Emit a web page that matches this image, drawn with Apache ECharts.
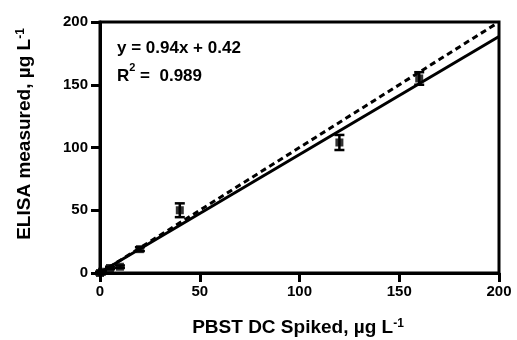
<!DOCTYPE html>
<html>
<head>
<meta charset="utf-8">
<script src="https://cdn.jsdelivr.net/npm/echarts@6/dist/echarts.min.js"></script>
<style>
  html, body { margin: 0; padding: 0; background: #fff; }
  #chart { width: 517px; height: 340px; }
</style>
</head>
<body>
<div id="chart"></div>
<script>
// spiked vs measured
var spiked = [0, 1, 5, 10, 20, 40, 120, 160];
var measured = [0, 1, 4, 5, 19, 50, 104, 155];
var errSd = [1, 0.5, 1, 1, 1.5, 5.5, 6, 5];
var fitSlope = 0.94;
var fitIntercept = 0.42;
var xTicks = [0, 50, 100, 150, 200];
var yTicks = [0, 50, 100, 150, 200];

var chart = echarts.init(document.getElementById('chart'));

var points = spiked.map(function (x, i) { return [x, measured[i]]; });
var bars = spiked.map(function (x, i) { return [x, measured[i] - errSd[i], measured[i] + errSd[i]]; });
var xMax = xTicks[xTicks.length - 1];
var fitLine = [[0, fitIntercept], [xMax, fitSlope * xMax + fitIntercept]];
var idLine = [[0, 0], [xMax, xMax]];

var font = 'Liberation Sans, Arial, sans-serif';
var labelRich = {
  t: { fontFamily: font, fontWeight: 'bold', fontSize: 19, fill: '#000' },
  s: { fontFamily: font, fontWeight: 'bold', fontSize: 12, fill: '#000', verticalAlign: 'top', padding: [0, 0, 9, 0] }
};

var option = {
  backgroundColor: '#fff',
  animation: false,
  grid: {
    left: 100, right: 18, top: 22, bottom: 67,
    show: true, borderColor: '#000', borderWidth: 3
  },
  xAxis: {
    type: 'value', min: 0, max: xMax, interval: 50,
    axisLine: { show: true, lineStyle: { color: '#000', width: 3 } },
    axisTick: { show: true, inside: false, length: 9, lineStyle: { color: '#000', width: 3 } },
    axisLabel: { color: '#000', fontFamily: font, fontWeight: 'bold', fontSize: 15, margin: 11 },
    splitLine: { show: false }
  },
  yAxis: {
    type: 'value', min: 0, max: yTicks[yTicks.length - 1], interval: 50,
    axisLine: { show: true, lineStyle: { color: '#000', width: 3 } },
    axisTick: { show: true, inside: false, length: 9, lineStyle: { color: '#000', width: 3 } },
    axisLabel: { color: '#000', fontFamily: font, fontWeight: 'bold', fontSize: 15, margin: 12 },
    splitLine: { show: false }
  },
  graphic: [
    {
      type: 'text', x: 298, y: 328,
      style: {
        text: '{t|PBST DC Spiked, µg L}{s|-1}',
        align: 'center', verticalAlign: 'middle',
        rich: labelRich
      }
    },
    {
      type: 'text', x: 25, y: 134, rotation: Math.PI / 2,
      style: {
        text: '{t|ELISA measured, µg L}{s|-1}',
        align: 'center', verticalAlign: 'middle',
        rich: labelRich
      }
    },
    {
      type: 'text', x: 117, y: 34,
      style: {
        text: '{r|y = 0.94x + 0.42}\n{r|R}{s|2}{r| =  0.989}',
        rich: {
          r: { fontFamily: font, fontWeight: 'bold', fontSize: 17, fill: '#000', lineHeight: 28 },
          s: { fontFamily: font, fontWeight: 'bold', fontSize: 11, fill: '#000', verticalAlign: 'top', padding: [0, 0, 9, 0] }
        }
      }
    }
  ],
  series: [
    {
      type: 'line', data: idLine, symbol: 'none', silent: true,
      lineStyle: { color: '#000', width: 3, type: [6, 4] }
    },
    {
      type: 'line', data: fitLine, symbol: 'none', silent: true,
      lineStyle: { color: '#000', width: 3 }
    },
    {
      type: 'custom', data: bars, silent: true,
      renderItem: function (params, api) {
        var x = api.value(0);
        var lo = api.coord([x, api.value(1)]);
        var hi = api.coord([x, api.value(2)]);
        var cap = 5;
        var st = { stroke: '#000', lineWidth: 2.5 };
        return {
          type: 'group',
          children: [
            { type: 'line', shape: { x1: lo[0], y1: lo[1], x2: hi[0], y2: hi[1] }, style: st },
            { type: 'line', shape: { x1: lo[0] - cap, y1: lo[1], x2: lo[0] + cap, y2: lo[1] }, style: st },
            { type: 'line', shape: { x1: hi[0] - cap, y1: hi[1], x2: hi[0] + cap, y2: hi[1] }, style: st }
          ]
        };
      }
    },
    {
      type: 'scatter', data: points, symbol: 'rect', symbolSize: 8,
      itemStyle: { color: '#000' }
    }
  ]
};

chart.setOption(option);
</script>
</body>
</html>
